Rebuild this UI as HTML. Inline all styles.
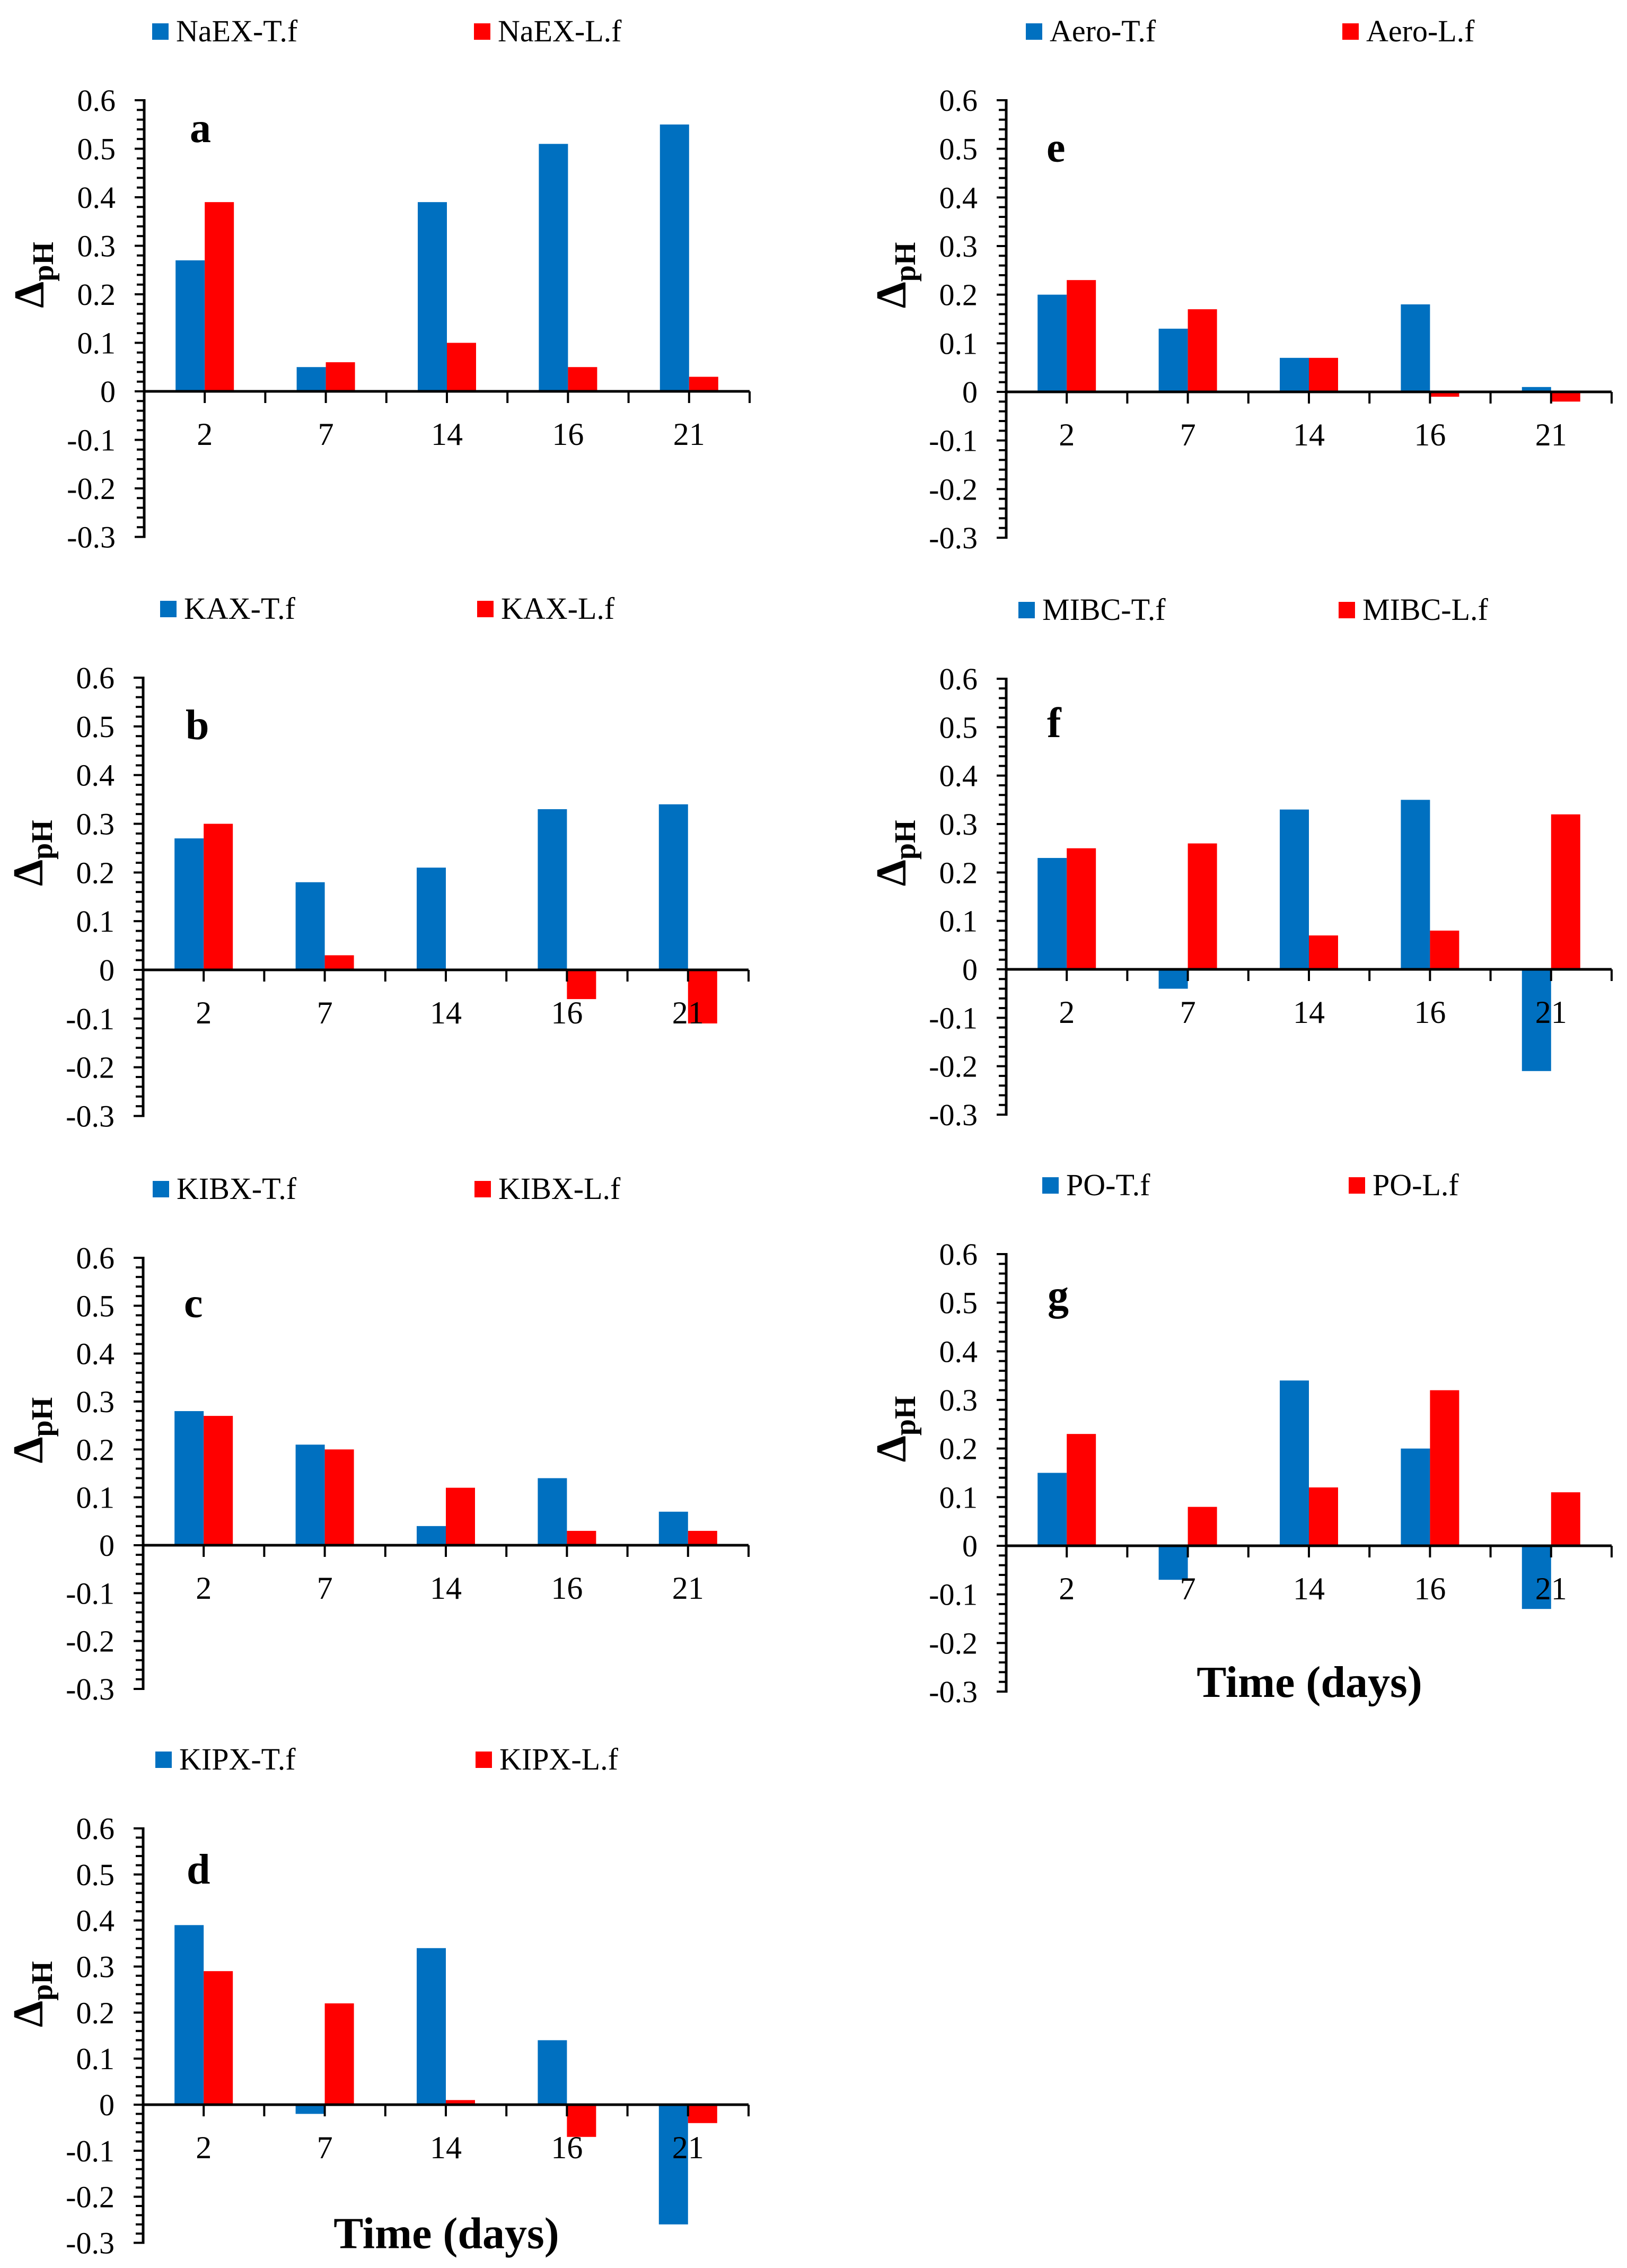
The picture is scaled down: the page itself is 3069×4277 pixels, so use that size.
<!DOCTYPE html>
<html><head><meta charset="utf-8"><style>
html,body{margin:0;padding:0;background:#fff;}
svg{display:block;}
text{font-family:"Liberation Serif","Times New Roman",serif;}
</style></head><body>
<svg id="fig" width="3069" height="4277" viewBox="0 0 3069 4277" xmlns="http://www.w3.org/2000/svg"></svg>
<script>
const categories = ["2","7","14","16","21"];
const yTicks = [0.6,0.5,0.4,0.3,0.2,0.1,0,-0.1,-0.2,-0.3];
const yTickLabels = ["0.6","0.5","0.4","0.3","0.2","0.1","0","-0.1","-0.2","-0.3"];
const panelIds = ["a","b","c","d","e","f","g"];
const seriesNames = [["NaEX-T.f","NaEX-L.f"],["KAX-T.f","KAX-L.f"],["KIBX-T.f","KIBX-L.f"],["KIPX-T.f","KIPX-L.f"],["Aero-T.f","Aero-L.f"],["MIBC-T.f","MIBC-L.f"],["PO-T.f","PO-L.f"]];
const valsA_T = [0.27,0.05,0.39,0.51,0.55];
const valsA_L = [0.39,0.06,0.10,0.05,0.03];
const valsB_T = [0.27,0.18,0.21,0.33,0.34];
const valsB_L = [0.30,0.03,0,-0.06,-0.11];
const valsC_T = [0.28,0.21,0.04,0.14,0.07];
const valsC_L = [0.27,0.20,0.12,0.03,0.03];
const valsD_T = [0.39,-0.02,0.34,0.14,-0.26];
const valsD_L = [0.29,0.22,0.01,-0.07,-0.04];
const valsE_T = [0.20,0.13,0.07,0.18,0.01];
const valsE_L = [0.23,0.17,0.07,-0.01,-0.02];
const valsF_T = [0.23,-0.04,0.33,0.35,-0.21];
const valsF_L = [0.25,0.26,0.07,0.08,0.32];
const valsG_T = [0.15,-0.07,0.34,0.20,-0.13];
const valsG_L = [0.23,0.08,0.12,0.32,0.11];
const seriesT = [valsA_T,valsB_T,valsC_T,valsD_T,valsE_T,valsF_T,valsG_T];
const seriesL = [valsA_L,valsB_L,valsC_L,valsD_L,valsE_L,valsF_L,valsG_L];

// layout (not data)
const layout = [
 {ax:272, top:189, zero:738, leg1:15, leg2:622, lx:358, lb:79, time:false},
 {ax:270, top:1278, zero:1829, leg1:32, leg2:630, lx:350, lb:116, time:false},
 {ax:270, top:2372, zero:2914, leg1:18, leg2:625, lx:347, lb:112, time:false},
 {ax:270, top:3448, zero:3969, leg1:23, leg2:627, lx:352, lb:104, time:true},
 {ax:1898, top:189, zero:739, leg1:37, leg2:634, lx:1974, lb:116, time:false},
 {ax:1898, top:1280, zero:1828, leg1:23, leg2:627, lx:1975, lb:110, time:false},
 {ax:1898, top:2365, zero:2915, leg1:68, leg2:646, lx:1976, lb:104, time:true}
];
const AXW = 1142, BLUE = "#0070C0", RED = "#FF0000";
const svg = document.getElementById('fig');
const NS = "http://www.w3.org/2000/svg";
function mk(tag, attrs, parent){ const e=document.createElementNS(NS,tag); for(const k in attrs) e.setAttribute(k,attrs[k]); (parent||svg).appendChild(e); return e; }

panelIds.forEach((pid,i)=>{
  const L = layout[i];
  const step = (L.zero - L.top)/6;
  const y = v => L.zero - v*step*10;
  const cw = AXW/categories.length;
  const xc = j => L.ax + cw*(j+0.5);
  const bw = 55;
  const g = mk('g',{});
  
  

  const lt = L.top - 145;
  const s1 = mk('rect',{x:L.ax+L.leg1,y:lt,width:31,height:31,fill:BLUE},g);
  
  
  const t1 = mk('text',{x:L.ax+L.leg1+45,y:lt+34,'font-size':58},g);
  t1.textContent = seriesNames[i][0];
  
  
  const s2 = mk('rect',{x:L.ax+L.leg2,y:lt,width:31,height:31,fill:RED},g);
  
  
  const t2 = mk('text',{x:L.ax+L.leg2+45,y:lt+34,'font-size':58},g);
  t2.textContent = seriesNames[i][1];
  
  

  categories.forEach((c,j)=>{
    const vt = seriesT[i][j], vl = seriesL[i][j];
    const bt = mk('rect',{x:xc(j)-bw,y:Math.min(y(vt),y(0)),width:bw,height:Math.abs(y(vt)-y(0)),fill:BLUE},g);
    
    
    const bl = mk('rect',{x:xc(j),y:Math.min(y(vl),y(0)),width:bw,height:Math.abs(y(vl)-y(0)),fill:RED},g);
    
    
  });

  const ya = mk('line',{x1:L.ax,y1:y(0.6)-2,x2:L.ax,y2:y(-0.3)+2,stroke:'#000','stroke-width':5},g);
  
  
  for(let k=0;k<=45;k++){
    const v = 0.6 - k*0.02;
    const major = (k%5===0);
    mk('line',{x1:L.ax-(major?18:14),y1:y(v),x2:L.ax,y2:y(v),stroke:'#000','stroke-width':4},g);
  }
  yTicks.forEach((v,k)=>{
    const tl = mk('text',{x:L.ax-54,y:y(v)+20,'font-size':58,'text-anchor':'end'},g);
    tl.textContent = yTickLabels[k];
    
    
  });

  const xa = mk('line',{x1:L.ax,y1:y(0),x2:L.ax+AXW,y2:y(0),stroke:'#000','stroke-width':5},g);
  
  
  for(let k=1;k<=10;k++){
    const xx = L.ax + cw*k/2;
    mk('line',{x1:xx,y1:y(0),x2:xx,y2:y(0)+22,stroke:'#000','stroke-width':4},g);
  }
  categories.forEach((c,j)=>{
    const xl = mk('text',{x:xc(j),y:y(0)+101,'font-size':60,'text-anchor':'middle'},g);
    xl.textContent = c;
    
    
  });

  const pl = mk('text',{x:L.lx,y:L.top+L.lb,'font-size':80,'font-weight':'bold'},g);
  pl.textContent = pid;
  
  

  const cy = y(0.24), cx = L.ax - 190;
  const yt = mk('text',{x:0,y:0,'font-size':80,'font-weight':'bold','text-anchor':'middle',transform:'translate('+cx+','+cy+') rotate(-90)'},g);
  
  
  yt.appendChild(document.createTextNode('Δ'));
  const sub = mk('tspan',{'font-size':56,dy:18},yt);
  sub.textContent = 'pH';

  if(L.time){
    const tt = mk('text',{x:L.ax+572,y:y(-0.3)+10,'font-size':84,'font-weight':'bold','text-anchor':'middle'},g);
    tt.textContent = 'Time (days)';
    
    
  }
});
</script>
</body></html>
